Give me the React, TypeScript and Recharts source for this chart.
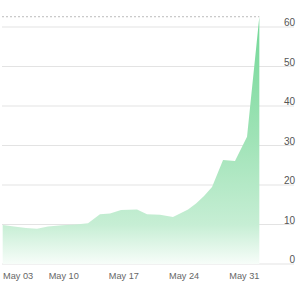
import React from 'react';
import { AreaChart, Area, XAxis, YAxis, CartesianGrid, ReferenceLine } from 'recharts';

// x = days since May 03, v = value
const days = [-0.21, 1.1, 2.5, 3.78, 5.06, 6.69, 8.31, 9.71, 11.1, 12.27, 13.55, 15.41, 16.57, 18.08, 19.59, 20.41, 21.34, 22.27, 23.2, 24.13, 25.41, 26.8, 28.2, 29.63];
const values = [9.9, 9.5, 9.1, 8.9, 9.5, 9.8, 10.0, 10.3, 12.6, 12.8, 13.7, 13.8, 12.6, 12.5, 11.9, 12.8, 13.8, 15.3, 17.2, 19.5, 26.3, 26.1, 32.2, 62.6];
const xTicks = [0, 7, 14, 21, 28];
const xTickLabels = ['May 03', 'May 10', 'May 17', 'May 24', 'May 31'];
const yTicks = [0, 10, 20, 30, 40, 50, 60];

const data = days.map((d, i) => ({ d, v: values[i] }));
const maxV = Math.max(...values);
const lastD = days[days.length - 1];

const FONT = '"Liberation Sans", Arial, sans-serif';

const XTick = (props: any) => {
  const { x, payload } = props;
  const i = xTicks.indexOf(payload.value);
  const label = xTickLabels[i] ?? '';
  const first = i === 0;
  return (
    <text x={first ? 3 : x - 1} y={278.5} textAnchor={first ? 'start' : 'middle'} fill="#666" fontSize={9.2} fontFamily={FONT}>
      {label}
    </text>
  );
};

const YTick = (props: any) => {
  const { y, payload } = props;
  return (
    <text x={295} y={y - 1} textAnchor="end" fill="#555" fontSize={10} fontFamily={FONT}>
      {payload.value}
    </text>
  );
};

export default function App() {
  return (
    <div style={{ position: 'absolute', left: 0, top: 0, width: 300, height: 297, background: '#fff' }}>
      <AreaChart width={300} height={297} data={data} margin={{ top: 7.25, right: 6, left: 2, bottom: 13 }}>
        <defs>
          <linearGradient id="areaGrad" x1="0" y1="0" x2="0" y2="1">
            <stop offset="0" stopColor="#72d897" />
            <stop offset="0.5" stopColor="#a0e3b7" />
            <stop offset="0.84" stopColor="#c6eed4" />
            <stop offset="1" stopColor="#f7fdf9" />
          </linearGradient>
        </defs>
        <CartesianGrid vertical={false} stroke="#e3e3e3" strokeWidth={1} horizontalValues={yTicks} />
        <XAxis
          dataKey="d"
          type="number"
          domain={[-0.29, 33.66]}
          ticks={xTicks}
          allowDataOverflow
          axisLine={false}
          tickLine={false}
          tickSize={0}
          height={20}
          interval={0}
          tick={<XTick />}
        />
        <YAxis
          orientation="right"
          mirror
          domain={[0, 65]}
          ticks={yTicks}
          axisLine={false}
          tickLine={false}
          tick={<YTick />}
          interval={0}
        />
        <Area
          type="linear"
          dataKey="v"
          stroke="none"
          fill="url(#areaGrad)"
          fillOpacity={1}
          isAnimationActive={false}
          dot={false}
          activeDot={false}
        />
        <ReferenceLine
          segment={[{ x: -0.29, y: maxV }, { x: lastD, y: maxV }]}
          stroke="#bbb"
          strokeDasharray="2 2"
          ifOverflow="visible"
        />
      </AreaChart>
    </div>
  );
}
